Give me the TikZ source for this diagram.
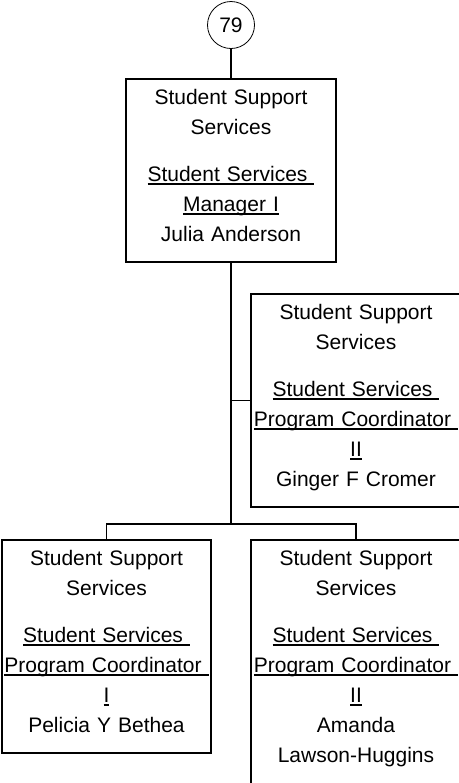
\documentclass[tikz,border=0pt]{standalone}
\usepackage{fontspec}
\setmainfont{Liberation Sans}
\usepackage{tikz}
\usetikzlibrary{positioning,calc}
\newsavebox\ulbox
\newcommand\undl[1]{\leavevmode\sbox\ulbox{#1}\rlap{\rule[-2.6pt]{\wd\ulbox}{1pt}}\usebox\ulbox}
\tikzset{
  unit/.style     ={draw,line width=1.1pt,minimum width=157.5pt,inner sep=0pt},
  unittext/.style ={align=center,text width=157.5pt,inner sep=0pt,anchor=base,
                    font=\fontsize{15.75}{22.5}\selectfont},
  seal/.style     ={circle,draw,line width=0.6pt,minimum size=35.25pt,inner sep=0pt,
                    font=\fontsize{15.75}{18}\selectfont},
  link/.style     ={line width=1.4pt},
}
\begin{document}
\begin{tikzpicture}[x=0.75pt,y=-0.75pt]
  \useasboundingbox (0,0) rectangle (459,783);
  \clip (0,0) rectangle (459,783);
  \node[seal] (top) at (231,25) {79};
  % boxes
  \node[unit,minimum height=137.25pt] (boss) at (231,170.5) {};
  \node[unit,minimum height=159.75pt] (ginger) at (356,400.5) {};
  \node[unit,minimum height=159.75pt,minimum width=156.75pt] (pelicia) at (106.5,646.5) {};
  \node[unit,minimum height=197.25pt] (amanda) at (356,671.5) {};
  \coordinate (jn) at (231,524);
  % texts
  \node[unittext] (bossT) at ([yshift=-19.5pt]boss.north)
    {Student Support\\ Services\\[12.75pt] \undl{Student Services\ }\\ \undl{Manager I}\\ Julia Anderson};
  \node[unittext] (gingerT) at ([yshift=-19.5pt]ginger.north)
    {Student Support\\ Services\\[12.75pt] \undl{Student Services\ }\\ \undl{Program Coordinator\ }\\ \undl{II}\\ Ginger F Cromer};
  \node[unittext] (peliciaT) at ([yshift=-19.5pt]pelicia.north)
    {Student Support\\ Services\\[12.75pt] \undl{Student Services\ }\\ \undl{Program Coordinator\ }\\ \undl{I}\\ Pelicia Y Bethea};
  \node[unittext] (amandaT) at ([yshift=-19.5pt]amanda.north)
    {Student Support\\ Services\\[12.75pt] \undl{Student Services\ }\\ \undl{Program Coordinator\ }\\ \undl{II}\\ Amanda\\ Lawson-Huggins};
  % connectors
  \draw[link] (top) -- (boss);
  \draw[link] (boss) -- (jn);
  \draw[link] (ginger.west -| jn) -- (ginger.west);
  \foreach \n in {pelicia,amanda}
    \draw[link] (jn) -| (\n.north);
\end{tikzpicture}
\end{document}
